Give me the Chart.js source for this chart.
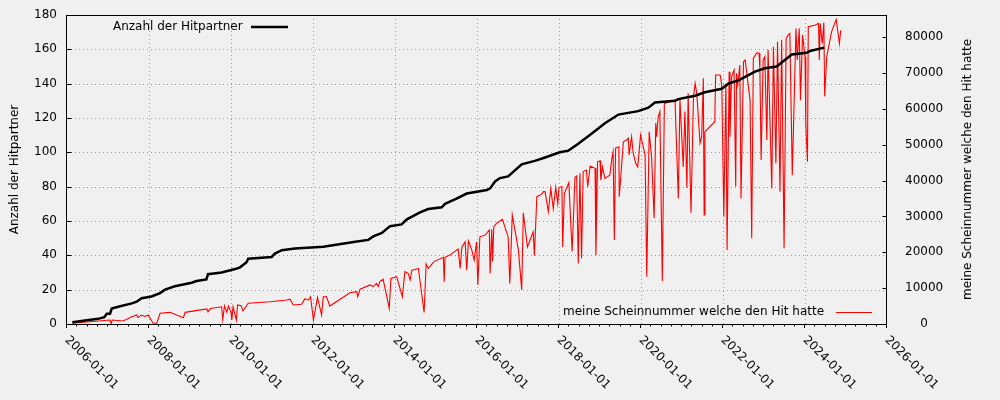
<!DOCTYPE html>
<html>
<head>
<meta charset="utf-8">
<script src="https://cdn.jsdelivr.net/npm/chart.js@4/dist/chart.umd.min.js"></script>
<style>
  html, body { margin: 0; padding: 0; background: #f0f0f0; }
  #wrap { width: 1000px; height: 400px; }
</style>
</head>
<body>
<div id="wrap"><canvas id="hitChart"></canvas></div>
<script>
// Anzahl der Hitpartner (cumulative), x = decimal year
const hitYears = [2006.13, 2006.44, 2006.76, 2006.91, 2006.97, 2007.05, 2007.09, 2007.25, 2007.58, 2007.70,
  2007.82, 2008.06, 2008.27, 2008.39, 2008.63, 2009.04, 2009.16, 2009.40, 2009.44, 2009.77,
  2010.10, 2010.22, 2010.38, 2010.42, 2010.99, 2011.07, 2011.24, 2011.56, 2012.25, 2013.07,
  2013.35, 2013.47, 2013.68, 2013.88, 2014.16, 2014.29, 2014.61, 2014.81, 2015.14, 2015.22,
  2015.50, 2015.75, 2016.24, 2016.32, 2016.44, 2016.56, 2016.76, 2017.09, 2017.41, 2017.66,
  2018.02, 2018.23, 2018.47, 2018.80, 2019.12, 2019.45, 2019.93, 2020.18, 2020.34, 2020.83,
  2020.91, 2021.32, 2021.56, 2021.97, 2022.13, 2022.38, 2022.62, 2022.78, 2023.02, 2023.31,
  2023.47, 2023.68, 2024.04, 2024.12, 2024.47];
const hitCounts = [1, 2, 3, 4, 6, 6, 9, 10, 12, 13,
  15, 16, 18, 20, 22, 24, 25, 26, 29, 30,
  32, 33, 36, 38, 39, 41, 43, 44, 45, 48,
  49, 51, 53, 57, 58, 61, 65, 67, 68, 70,
  73, 76, 78, 79, 83, 85, 86, 93, 95, 97,
  100, 101, 105, 111, 117, 122, 124, 126, 129, 130,
  131, 133, 135, 137, 140, 142, 145, 147, 149, 150,
  153, 157, 158, 159, 161];

// meine Scheinnummer welche den Hit hatte
const numYears = [2006.13, 2007.05, 2007.08, 2007.10, 2007.37, 2007.58, 2007.70, 2007.73, 2007.82, 2007.90,
  2007.98, 2008.10, 2008.19, 2008.27, 2008.51, 2008.84, 2008.88, 2009.41, 2009.44, 2009.50,
  2009.77, 2009.80, 2009.84, 2009.90, 2009.94, 2010.00, 2010.02, 2010.05, 2010.13, 2010.16,
  2010.25, 2010.29, 2010.33, 2010.42, 2010.95, 2011.36, 2011.44, 2011.52, 2011.72, 2011.80,
  2011.89, 2011.94, 2012.01, 2012.11, 2012.21, 2012.25, 2012.33, 2012.41, 2012.90, 2013.07,
  2013.09, 2013.15, 2013.39, 2013.47, 2013.55, 2013.59, 2013.63, 2013.71, 2013.86, 2013.90,
  2014.04, 2014.18, 2014.24, 2014.32, 2014.37, 2014.41, 2014.49, 2014.57, 2014.71, 2014.76,
  2014.81, 2014.85, 2014.95, 2015.18, 2015.20, 2015.22, 2015.34, 2015.54, 2015.59, 2015.63,
  2015.71, 2015.75, 2015.79, 2015.87, 2015.93, 2015.99, 2016.02, 2016.07, 2016.20, 2016.30,
  2016.32, 2016.36, 2016.38, 2016.41, 2016.48, 2016.62, 2016.76, 2016.80, 2016.86, 2017.01,
  2017.09, 2017.13, 2017.23, 2017.37, 2017.40, 2017.46, 2017.58, 2017.62, 2017.66, 2017.74,
  2017.80, 2017.86, 2017.92, 2017.97, 2018.00, 2018.07, 2018.09, 2018.13, 2018.24, 2018.32,
  2018.39, 2018.43, 2018.47, 2018.51, 2018.55, 2018.59, 2018.67, 2018.70, 2018.76, 2018.88,
  2018.90, 2018.94, 2019.00, 2019.02, 2019.06, 2019.12, 2019.24, 2019.29, 2019.32, 2019.35,
  2019.38, 2019.46, 2019.47, 2019.57, 2019.65, 2019.69, 2019.71, 2019.77, 2019.81, 2019.87,
  2019.92, 2019.99, 2020.10, 2020.14, 2020.20, 2020.26, 2020.32, 2020.36, 2020.38, 2020.42,
  2020.46, 2020.52, 2020.57, 2020.83, 2020.91, 2020.95, 2021.03, 2021.07, 2021.12, 2021.15,
  2021.22, 2021.28, 2021.32, 2021.36, 2021.44, 2021.48, 2021.52, 2021.54, 2021.56, 2021.80,
  2021.82, 2021.93, 2021.97, 2022.02, 2022.07, 2022.10, 2022.15, 2022.17, 2022.21, 2022.27,
  2022.31, 2022.33, 2022.36, 2022.41, 2022.44, 2022.50, 2022.54, 2022.66, 2022.70, 2022.74,
  2022.82, 2022.88, 2022.90, 2022.93, 2022.98, 2023.02, 2023.07, 2023.10, 2023.19, 2023.23,
  2023.29, 2023.33, 2023.39, 2023.43, 2023.49, 2023.54, 2023.59, 2023.63, 2023.69, 2023.78,
  2023.81, 2023.86, 2023.89, 2023.94, 2024.00, 2024.02, 2024.06, 2024.08, 2024.24, 2024.33,
  2024.35, 2024.37, 2024.42, 2024.46, 2024.48, 2024.53, 2024.65, 2024.76, 2024.84, 2024.87];
const numValues = [200, 1100, 100, 1100, 850, 2000, 2500, 1800, 2500, 2100,
  2500, 200, 200, 3000, 3250, 1750, 3250, 4200, 3400, 4300,
  4800, 1200, 5100, 3300, 5000, 3300, 1100, 4800, 1100, 5300,
  5100, 3700, 4300, 5800, 6200, 6700, 6900, 5300, 5500, 7000,
  6700, 7600, 1100, 7400, 2500, 7600, 7600, 5000, 8700, 9000,
  7600, 9700, 10900, 10400, 11300, 10400, 11800, 12500, 4400, 12700,
  13200, 7600, 14600, 14100, 12300, 15000, 15200, 15500, 3200, 16700,
  15500, 16000, 17400, 18600, 11800, 18600, 19200, 20900, 15500, 21400,
  22900, 15000, 23200, 20800, 17800, 22900, 10900, 24300, 24800, 26200,
  14100, 26400, 17400, 27100, 28100, 29200, 24300, 11300, 30400, 20600,
  9500, 31000, 21500, 25700, 19000, 35500, 36200, 36900, 36900, 31300,
  37800, 32200, 38100, 33600, 38100, 38300, 21500, 36400, 39400, 20200,
  40900, 41300, 16900, 42000, 18300, 42500, 42900, 38300, 44000, 43400,
  19200, 45200, 45500, 40100, 43800, 40600, 41500, 46200, 48000, 23400,
  49000, 49400, 35500, 50800, 51300, 51800, 47100, 52200, 47600, 44800,
  43800, 52700, 47100, 13200, 53600, 46200, 29500, 56000, 52200, 57800,
  59200, 12000, 61500, 62400, 35000, 62600, 43800, 59200, 38000, 64300,
  31000, 63400, 67100, 64300, 50400, 52200, 68500, 30400, 53600, 56400,
  69400, 69400, 66600, 29900, 67000, 20600, 70300, 52200, 68900, 70800,
  38300, 69900, 66600, 72200, 35000, 73100, 73600, 62400, 23900, 74100,
  75500, 75500, 70800, 45700, 73600, 74500, 51300, 76400, 37800, 77300,
  44800, 78700, 36900, 79200, 21100, 79600, 80600, 81000, 41500, 82400,
  73600, 82400, 62400, 80600, 74500, 55500, 45200, 82900, 83300, 83800,
  73600, 83800, 78200, 84000, 63400, 74500, 81500, 84900, 78200, 81900];

const tickYears = [2006, 2008, 2010, 2012, 2014, 2016, 2018, 2020, 2022, 2024, 2026];
const leftTicks = [0, 20, 40, 60, 80, 100, 120, 140, 160, 180];
const rightTicks = [0, 10000, 20000, 30000, 40000, 50000, 60000, 70000, 80000];

const FONT = '12px "DejaVu Sans"';

const axesDeco = {
  id: 'axesDeco',
  beforeDraw(chart) {
    const { ctx, width, height } = chart;
    ctx.save();
    ctx.fillStyle = '#f0f0f0';
    ctx.fillRect(0, 0, width, height);
    ctx.restore();
  },
  beforeDatasetsDraw(chart) {
    const { ctx, chartArea: a, scales: { x, y } } = chart;
    ctx.save();
    ctx.strokeStyle = '#9a9a9a';
    ctx.lineWidth = 1;
    ctx.setLineDash([1, 3]);
    tickYears.forEach(v => {
      if (v <= x.min || v >= x.max) return;
      const px = Math.round(x.getPixelForValue(v)) + 0.5;
      ctx.beginPath(); ctx.moveTo(px, a.top); ctx.lineTo(px, a.bottom); ctx.stroke();
    });
    leftTicks.forEach(v => {
      if (v <= y.min || v >= y.max) return;
      const py = Math.round(y.getPixelForValue(v)) + 0.5;
      ctx.beginPath(); ctx.moveTo(a.left, py); ctx.lineTo(a.right, py); ctx.stroke();
    });
    ctx.restore();
  },
  afterDraw(chart) {
    const { ctx, chartArea: a, scales: { x, y, y2 } } = chart;
    ctx.save();
    ctx.strokeStyle = '#000';
    ctx.lineWidth = 1;
    // frame
    ctx.strokeRect(a.left - 0.5, a.top + 0.5, a.right - a.left, a.bottom - a.top);
    // tick marks
    ctx.beginPath();
    leftTicks.forEach(v => {
      const py = Math.round(y.getPixelForValue(v)) + 0.5;
      ctx.moveTo(a.left, py); ctx.lineTo(a.left + 4.5, py);
    });
    rightTicks.forEach(v => {
      const py = Math.round(y2.getPixelForValue(v)) + 0.5;
      ctx.moveTo(a.right - 4.5, py); ctx.lineTo(a.right, py);
    });
    for (let q = 2006; q <= 2026; q += 0.25) {
      const px = Math.round(x.getPixelForValue(q)) - 0.5;
      const major = tickYears.includes(q);
      ctx.moveTo(px, a.bottom); ctx.lineTo(px, a.bottom + (major ? 4 : 2.5));
    }
    ctx.stroke();

    // rotated date labels
    ctx.fillStyle = '#000';
    ctx.font = FONT;
    ctx.textAlign = 'left';
    ctx.textBaseline = 'top';
    tickYears.forEach(v => {
      const px = x.getPixelForValue(v);
      ctx.save();
      ctx.translate(px + 4, a.bottom + 10);
      ctx.rotate(Math.PI / 4);
      ctx.fillText(v + '-01-01', 0, 0);
      ctx.restore();
    });

    // axis titles
    ctx.textAlign = 'center';
    ctx.textBaseline = 'middle';
    const midY = (a.top + a.bottom) / 2;
    ctx.save();
    ctx.translate(15, midY);
    ctx.rotate(-Math.PI / 2);
    ctx.fillText('Anzahl der Hitpartner', 0, 0);
    ctx.restore();
    ctx.save();
    ctx.translate(968, midY);
    ctx.rotate(-Math.PI / 2);
    ctx.fillText('meine Scheinnummer welche den Hit hatte', 0, 0);
    ctx.restore();

    // legends (text first, then line)
    ctx.textAlign = 'left';
    ctx.fillText('Anzahl der Hitpartner', 113, 27);
    ctx.strokeStyle = '#000';
    ctx.lineWidth = 2.5;
    ctx.beginPath(); ctx.moveTo(251, 27); ctx.lineTo(288, 27); ctx.stroke();

    ctx.fillText('meine Scheinnummer welche den Hit hatte', 563, 312);
    ctx.strokeStyle = '#ff0000';
    ctx.lineWidth = 1.2;
    ctx.beginPath(); ctx.moveTo(836, 312.5); ctx.lineTo(872, 312.5); ctx.stroke();
    ctx.restore();
  }
};

Chart.defaults.font.family = '"DejaVu Sans"';
Chart.defaults.font.size = 12;
Chart.defaults.color = '#000';

new Chart(document.getElementById('hitChart'), {
  type: 'line',
  data: {
    datasets: [
      {
        label: 'Anzahl der Hitpartner',
        data: hitYears.map((yr, i) => ({ x: yr, y: hitCounts[i] })),
        borderColor: '#000',
        borderWidth: 2.5,
        yAxisID: 'y'
      },
      {
        label: 'meine Scheinnummer welche den Hit hatte',
        data: numYears.map((yr, i) => ({ x: yr, y: numValues[i] })),
        borderColor: '#ff0000',
        borderWidth: 1.1,
        yAxisID: 'y2'
      }
    ]
  },
  options: {
    responsive: true,
    maintainAspectRatio: false,
    animation: false,
    layout: { padding: { top: 15, right: 0, bottom: 0, left: 0 } },
    elements: { point: { radius: 0 }, line: { tension: 0, fill: false } },
    plugins: { legend: { display: false }, tooltip: { enabled: false } },
    scales: {
      x: {
        type: 'linear',
        min: 2006,
        max: 2026,
        ticks: { display: false, stepSize: 2 },
        grid: { display: false, drawTicks: false },
        border: { display: false },
        afterFit(s) { s.height = 76; }
      },
      y: {
        position: 'left',
        min: 0,
        max: 180,
        afterBuildTicks(s) { s.ticks = leftTicks.map(v => ({ value: v })); },
        ticks: { padding: 10, callback: v => String(v) },
        grid: { display: false, drawTicks: false },
        border: { display: false },
        afterFit(s) { s.width = 67; s.paddingTop = 0; s.paddingBottom = 0; }
      },
      y2: {
        position: 'right',
        min: 0,
        max: 86134,
        afterBuildTicks(s) { s.ticks = rightTicks.map(v => ({ value: v })); },
        ticks: { padding: 18, crossAlign: 'center', callback: v => String(v) },
        grid: { display: false, drawTicks: false },
        border: { display: false },
        afterFit(s) { s.width = 113; s.paddingTop = 0; s.paddingBottom = 0; }
      }
    }
  },
  plugins: [axesDeco]
});
</script>
</body>
</html>
